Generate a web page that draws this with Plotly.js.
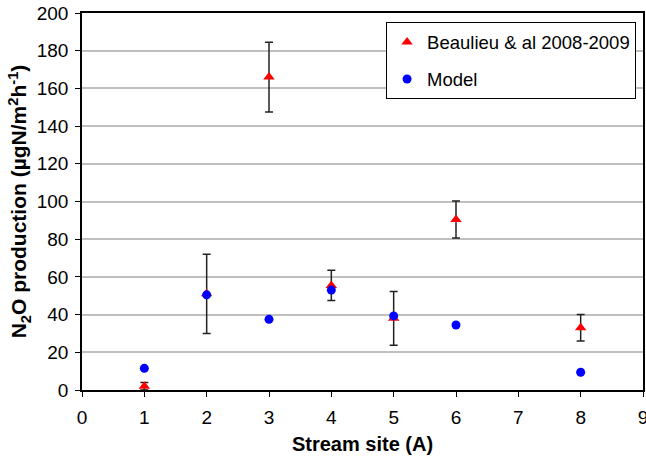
<!DOCTYPE html>
<html><head><meta charset="utf-8">
<script src="https://cdn.plot.ly/plotly-3.0.1.min.js"></script>
<style>html,body{margin:0;padding:0;background:#fff}</style>
</head><body><div id="chart" style="width:646px;height:462px"></div>
<script>
const obsSites = [1, 2, 3, 4, 5, 6, 8];
const obsValues = [2, 51, 166, 55.5, 38, 90.5, 33];
const obsErrors = [2, 21, 18.5, 8, 14.3, 9.8, 7];
const modelSites = [1, 2, 3, 4, 5, 6, 8];
const modelValues = [11.5, 50.5, 37.5, 53, 39.3, 34.5, 9.4];
const xTicks = [0, 1, 2, 3, 4, 5, 6, 7, 8, 9];
const yTicks = [0, 20, 40, 60, 80, 100, 120, 140, 160, 180, 200];

const font = "Liberation Sans, Arial, sans-serif";
const data = [
  {x: obsSites, y: obsValues, type: 'scatter', mode: 'markers', name: 'Beaulieu &amp; al 2008-2009',
   legendgroup: 'obs',
   marker: {symbol: 'triangle-up', color: '#ff0000', size: 10},
   error_y: {type: 'data', array: obsErrors, visible: true, color: '#222', thickness: 1.5, width: 4}},
  {x: modelSites, y: modelValues, type: 'scatter', mode: 'markers', name: 'Model',
   legendgroup: 'model',
   marker: {symbol: 'circle', color: '#0000ff', size: 9}}
];
const layout = {
  width: 646, height: 462,
  margin: {l: 82, r: 3, t: 13, b: 72},
  paper_bgcolor: '#fff', plot_bgcolor: '#fff',
  font: {family: font, size: 18, color: '#000'},
  showlegend: true,
  legend: {x: 0.542, y: 0.975, xanchor: 'left', yanchor: 'top', bordercolor: '#000', borderwidth: 1,
           bgcolor: '#fff', font: {size: 18.5}, itemwidth: 30, tracegroupgap: 10},
  xaxis: {range: [0, 9], tickvals: xTicks, ticks: 'outside', ticklen: 5, tickcolor: '#000',
          showline: true, linecolor: '#000', linewidth: 1.5, mirror: true, showgrid: false, zeroline: false,
          tickfont: {size: 19}, ticklabeloverflow: 'allow', ticklabelstandoff: 4,
          title: {text: '<b>Stream site (A)</b>', font: {size: 20}, standoff: 10}},
  yaxis: {range: [0, 200], tickvals: yTicks, ticks: 'outside', ticklen: 5, tickcolor: '#000',
          showline: true, linecolor: '#000', linewidth: 1.5, mirror: true,
          showgrid: true, gridcolor: '#c0c0c0', gridwidth: 1.5, zeroline: false,
          tickfont: {size: 19}, ticklabelstandoff: 3,
          title: {text: '<b>N<sub>2</sub>O production (µgN/m<sup>2</sup>h<sup>-1</sup>)</b>', font: {size: 21}, standoff: 4}}
};
Plotly.newPlot('chart', data, layout, {displayModeBar: false});
</script></body></html>
